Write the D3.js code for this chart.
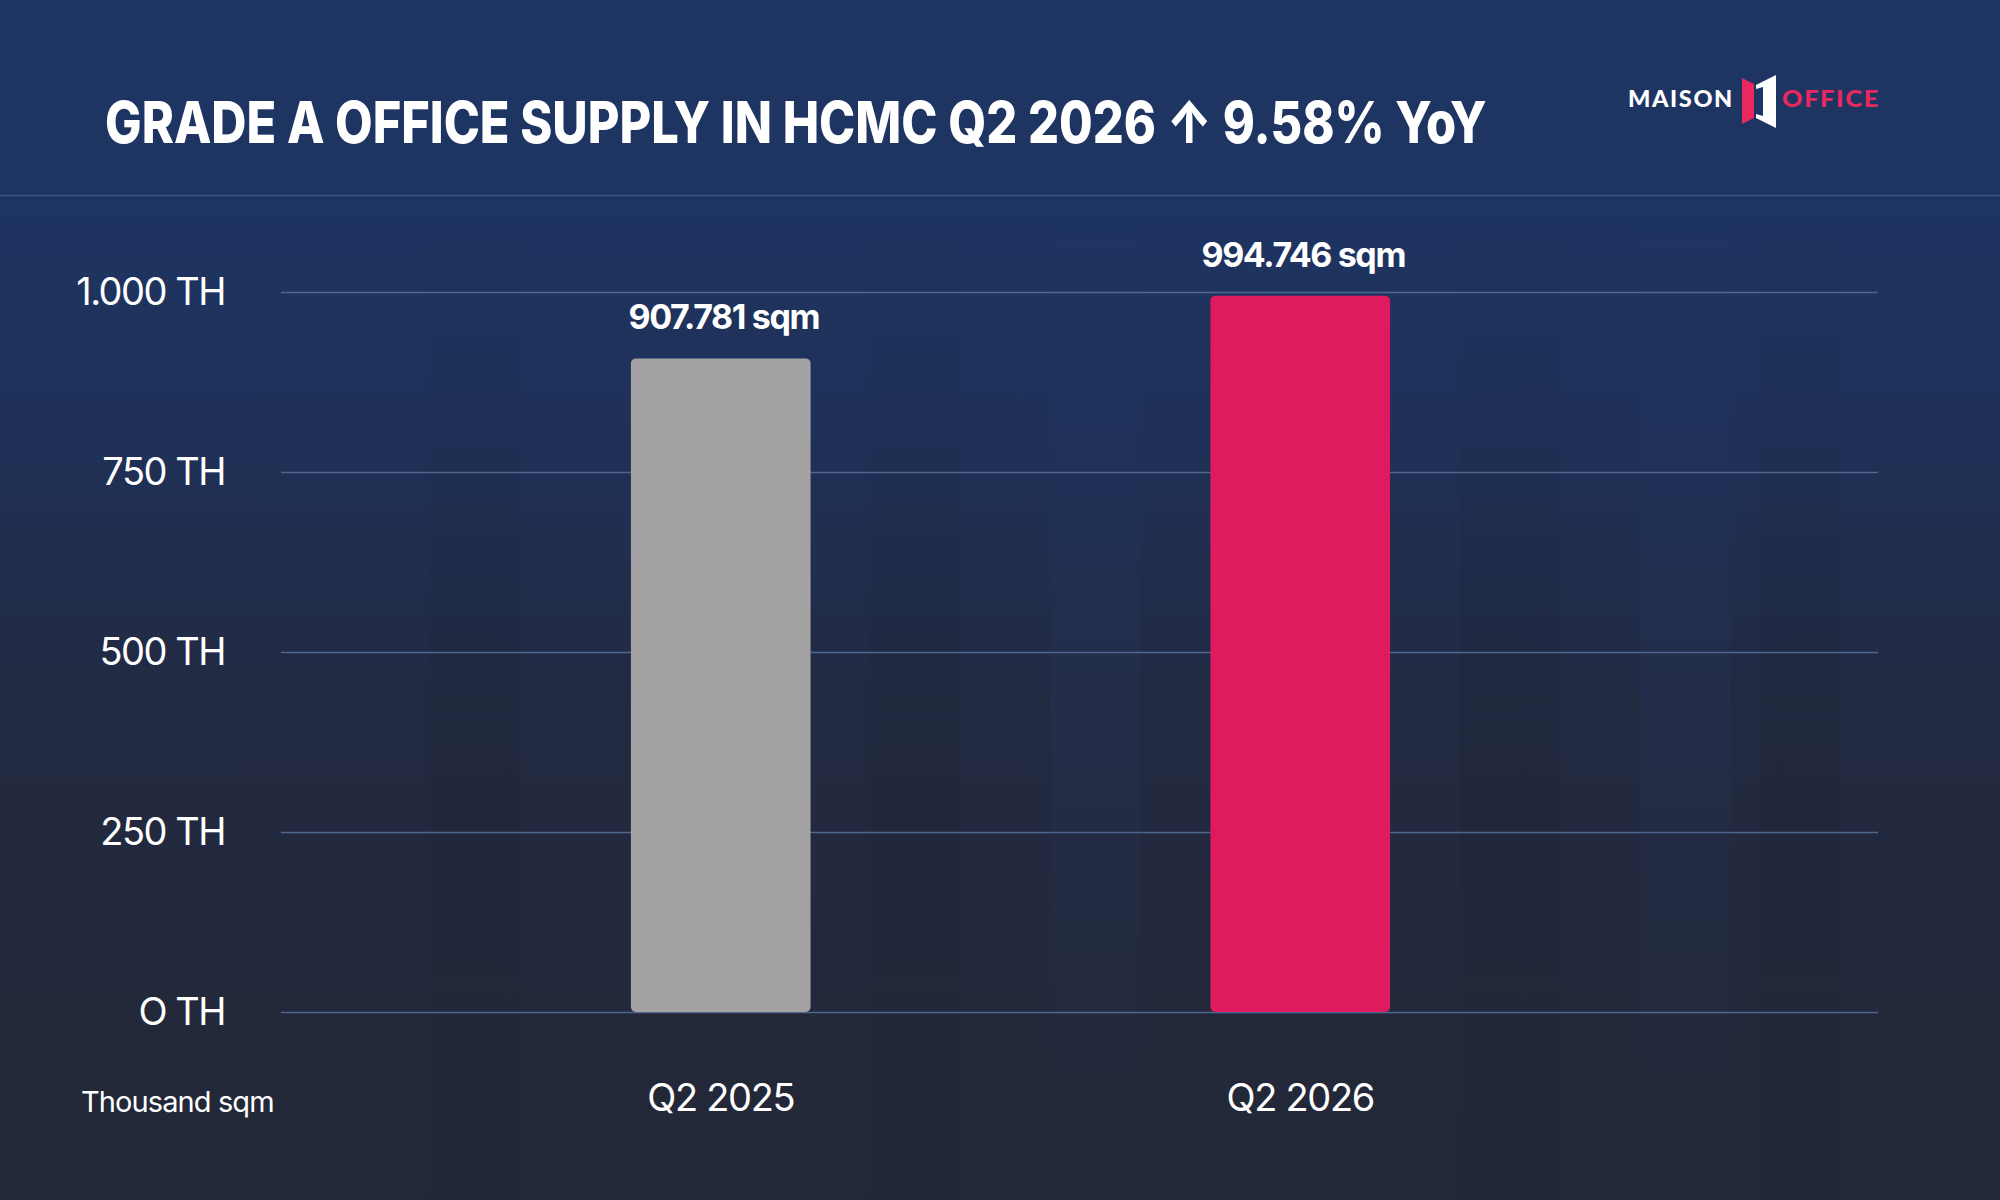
<!DOCTYPE html>
<html>
<head>
<meta charset="utf-8">
<script src="https://cdn.jsdelivr.net/npm/d3@7"></script>
<style>
  html, body { margin: 0; padding: 0; background: #232836; }
  svg { display: block; }
</style>
</head>
<body>
<svg id="chart" width="2000" height="1200"></svg>
<script>
const categories = ["Q2 2025", "Q2 2026"];
const values = [907.781, 994.746];
const valueLabels = ["907.781 sqm", "994.746 sqm"];
const barColors = ["#a4a2a3", "#e01a5e"];
const yTicks = [0, 250, 500, 750, 1000];
const yTickLabels = ["O TH", "250 TH", "500 TH", "750 TH", "1.000 TH"];
const titleText = "GRADE A OFFICE SUPPLY IN HCMC Q2 2026 \u2191 9.58% YoY";
const unitText = "Thousand sqm";

const W = 2000, H = 1200;
const svg = d3.select("#chart");
const defs = svg.append("defs");

const bg = defs.append("linearGradient").attr("id", "bg").attr("x1", 0).attr("y1", 0).attr("x2", 0).attr("y2", 1);
[["0%", "#1e3664"], ["17%", "#1e3461"], ["35%", "#1f3159"], ["58%", "#222a42"], ["100%", "#232836"]]
  .forEach(([o, c]) => bg.append("stop").attr("offset", o).attr("stop-color", c));
svg.append("rect").attr("width", W).attr("height", H).attr("fill", "url(#bg)");

// faint vertical stripes in background
const sg = defs.append("linearGradient").attr("id", "stripe").attr("x1", 0).attr("y1", 0).attr("x2", 0).attr("y2", 1);
sg.append("stop").attr("offset", "0%").attr("stop-color", "#000").attr("stop-opacity", 0);
sg.append("stop").attr("offset", "45%").attr("stop-color", "#000").attr("stop-opacity", 0.06);
sg.append("stop").attr("offset", "100%").attr("stop-color", "#000").attr("stop-opacity", 0.02);
const sgL = defs.append("linearGradient").attr("id", "stripeL").attr("x1", 0).attr("y1", 0).attr("x2", 0).attr("y2", 1);
sgL.append("stop").attr("offset", "0%").attr("stop-color", "#2a4a8a").attr("stop-opacity", 0);
sgL.append("stop").attr("offset", "50%").attr("stop-color", "#2a4a8a").attr("stop-opacity", 0.10);
sgL.append("stop").attr("offset", "100%").attr("stop-color", "#2a4a8a").attr("stop-opacity", 0.0);
const stripes = [[430, 90, "stripe"], [870, 90, "stripe"], [1050, 90, "stripeL"], [1460, 100, "stripe"], [1640, 90, "stripeL"], [1760, 80, "stripe"]];
svg.append("g").selectAll("rect").data(stripes).join("rect")
  .attr("x", d => d[0]).attr("width", d => d[1]).attr("y", 200).attr("height", 1000)
  .attr("fill", d => `url(#${d[2]})`);

// header divider
svg.append("line").attr("x1", 0).attr("x2", W).attr("y1", 195.5).attr("y2", 195.5)
  .attr("stroke", "#3e5381").attr("stroke-width", 1.5);

// helper: horizontally condense a text to a target width (left anchored at x)
function fitWidth(sel, xLeft, target) {
  const n = sel.node().getComputedTextLength();
  const k = target / n;
  sel.attr("x", 0).attr("transform", `translate(${xLeft},0) scale(${k},1)`);
}

// title
const title = svg.append("text").attr("y", 143)
  .attr("font-family", "Inter").attr("font-weight", 800).attr("font-size", 58)
  .attr("fill", "#ffffff").text(titleText);
fitWidth(title, 105, 1382);

// logo
const logo = svg.append("g");
const m1 = logo.append("text").attr("y", 107).attr("font-family", "Lato").attr("font-weight", 900)
  .attr("font-size", 22).attr("letter-spacing", 1.5).attr("fill", "#ffffff").text("MAISON");
fitWidth(m1, 1628, 106);
const m2 = logo.append("text").attr("y", 107).attr("font-family", "Lato").attr("font-weight", 900)
  .attr("font-size", 22).attr("letter-spacing", 1.5).attr("fill", "#e8285f").text("OFFICE");
fitWidth(m2, 1782, 98);
logo.append("polygon").attr("points", "1742,78 1754,84 1754,118 1742,124").attr("fill", "#e8285f");
logo.append("polygon").attr("points", "1756,85 1776,75 1776,128 1756,118").attr("fill", "#ffffff");
logo.append("polygon").attr("points", "1756,89 1763,87 1763,116 1756,114").attr("fill", "#1e3461");

// scales
const x0 = 281, x1 = 1878;
const y = d3.scaleLinear().domain([0, 1000]).range([1012, 292]);
const x = d3.scaleBand().domain(categories).range([431, 1590]).paddingInner(0.69).paddingOuter(0.345);

// y axis with gridlines
const yAxis = svg.append("g").attr("transform", `translate(${x0},0)`)
  .call(d3.axisLeft(y).tickValues(yTicks).tickSize(-(x1 - x0)).tickPadding(56)
    .tickFormat(d => yTickLabels[yTicks.indexOf(d)]));
yAxis.select(".domain").remove();
yAxis.selectAll(".tick line").attr("stroke", "#4f6691").attr("stroke-width", 1.5);
yAxis.selectAll(".tick text").attr("fill", "#ffffff").attr("font-family", "Inter")
  .attr("font-size", 38).attr("letter-spacing", -1.5).attr("dy", "0.34em");

// bars
svg.append("g").selectAll("rect").data(values).join("rect")
  .attr("x", (d, i) => x(categories[i])).attr("width", x.bandwidth())
  .attr("y", d => y(d)).attr("height", d => y(0) - y(d))
  .attr("rx", 5).attr("fill", (d, i) => barColors[i]);

// value labels
svg.append("g").selectAll("text").data(values).join("text")
  .attr("x", (d, i) => x(categories[i]) + x.bandwidth() / 2 + 3)
  .attr("y", d => y(d) - 29)
  .attr("text-anchor", "middle").attr("font-family", "Inter").attr("font-weight", 700)
  .attr("font-size", 34).attr("letter-spacing", -1.4).attr("fill", "#ffffff")
  .text((d, i) => valueLabels[i]);

// x axis labels
const xAxis = svg.append("g").attr("transform", "translate(0,1012)")
  .call(d3.axisBottom(x).tickSize(0).tickPadding(99));
xAxis.select(".domain").remove();
xAxis.selectAll(".tick text").attr("fill", "#ffffff").attr("font-family", "Inter")
  .attr("font-size", 38).attr("letter-spacing", -1.3).attr("dy", 0);

// unit label
svg.append("text").attr("x", 81).attr("y", 1112).attr("font-family", "Inter")
  .attr("font-size", 29).attr("letter-spacing", -0.9).attr("fill", "#ffffff").text(unitText);
</script>
</body>
</html>
